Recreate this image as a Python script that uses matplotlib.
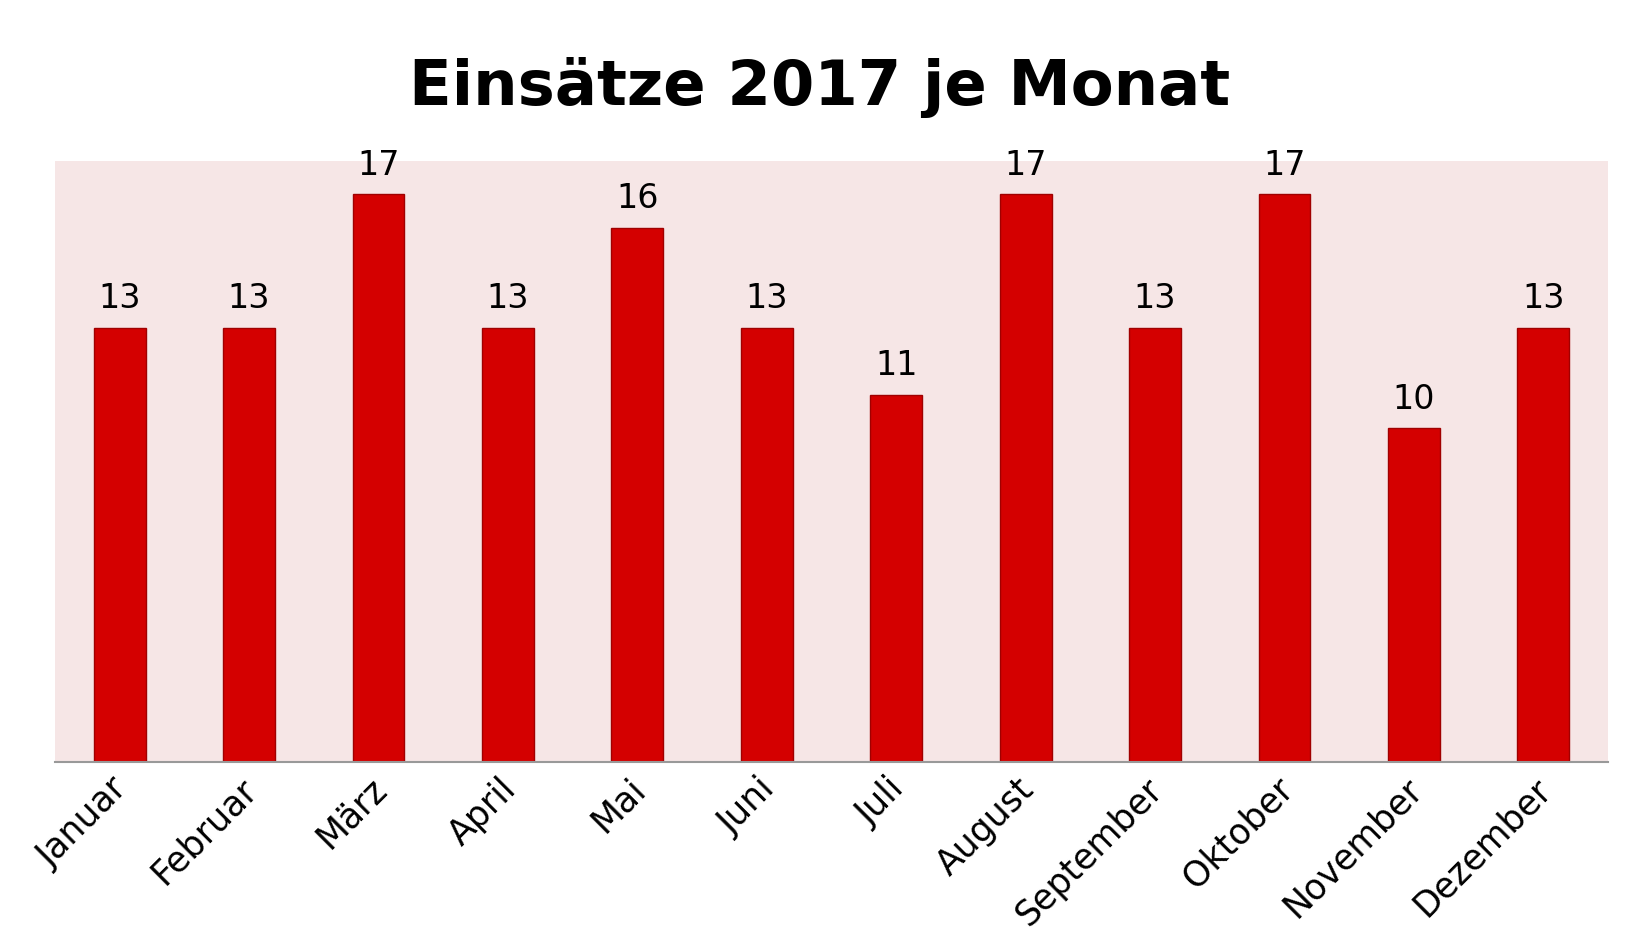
import matplotlib
matplotlib.use('Agg')
import matplotlib.pyplot as plt
import matplotlib.transforms as mtransforms
import numpy as np

### Daten ###
monate = ['Januar', 'Februar', 'März', 'April', 'Mai', 'Juni', 'Juli',
          'August', 'September', 'Oktober', 'November', 'Dezember']
einsaetze = [13, 13, 17, 13, 16, 13, 11, 17, 13, 17, 10, 13]

fig = plt.figure(figsize=(16.4, 9.48), dpi=100)
ax = fig.add_axes([55/1640, 1 - 762/948, (1608 - 55)/1640, (762 - 161)/948])
ax.set_facecolor('#f6e6e6')

x = np.arange(len(monate))
bars = ax.bar(x, einsaetze, width=0.4, color='#d40000', edgecolor='#a00000', linewidth=1)

for b, v in zip(bars, einsaetze):
    ax.annotate(str(v), xy=(b.get_x() + b.get_width()/2, v), xytext=(0, 9),
                textcoords='offset points', ha='center', va='bottom', fontsize=24)

ax.set_xlim(-0.5, len(monate) - 0.5)
ax.set_ylim(0, 18)
ax.set_yticks([])
ax.set_xticks(x)
ax.set_xticklabels(monate, rotation=45, ha='right', rotation_mode='anchor', fontsize=25)
ax.tick_params(axis='x', length=0, pad=7)
# Beschriftungen etwas nach links schieben
shift = mtransforms.ScaledTranslation(-9/100, 0, fig.dpi_scale_trans)
for lbl in ax.get_xticklabels():
    lbl.set_transform(lbl.get_transform() + shift)
for s in ['top', 'right', 'left']:
    ax.spines[s].set_visible(False)
ax.spines['bottom'].set_color('#999999')
ax.spines['bottom'].set_linewidth(1.5)

fig.text(0.5, 1 - 88/948, 'Einsätze 2017 je Monat', ha='center', va='center',
         fontsize=45, fontweight='bold')

fig.savefig('out.png', dpi=100)
